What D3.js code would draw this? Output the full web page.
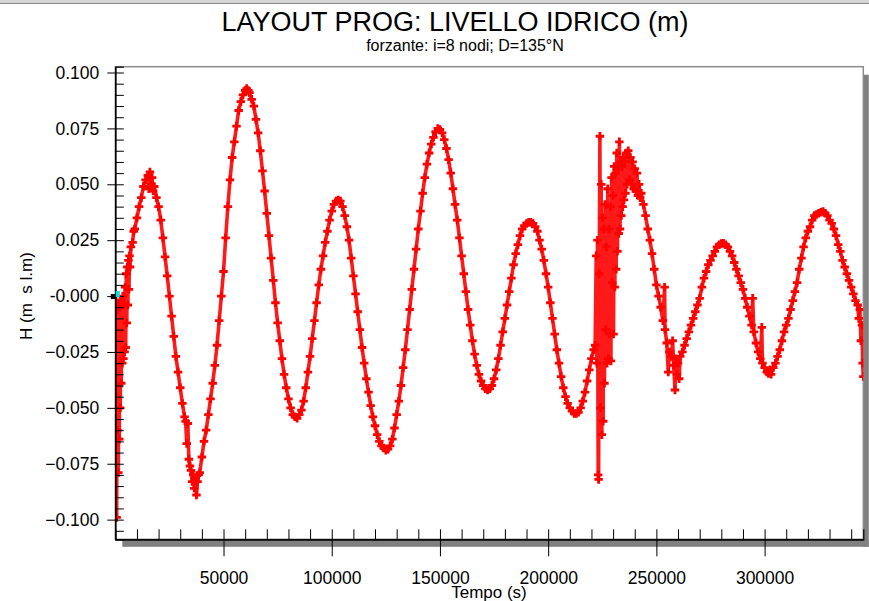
<!DOCTYPE html>
<html>
<head>
<meta charset="utf-8">
<script src="https://cdn.jsdelivr.net/npm/d3@7"></script>
<style>
  body { margin: 0; background: #fff; }
  svg { display: block; font-family: "Liberation Sans", Arial, sans-serif; }
</style>
</head>
<body>
<svg id="chart" width="869" height="601"></svg>
<script>
/// Data: [tempo (s), livello (m)]
var livello = [
  [0,0.0005],[350,-0.004],[630,-0.099],[850,-0.006],[1000,-0.060],[1150,-0.004],[1400,-0.079],[1600,-0.003],
  [1850,-0.064],[2050,-0.005],[2300,-0.050],[2500,-0.002],[2750,-0.039],[2950,-0.004],[3250,-0.030],[3500,0.000],
  [3750,-0.028],[4000,-0.004],[4300,-0.025],[4550,0.004],[4800,-0.023],[5050,0.010],[5300,-0.012],[5550,0.013],
  [5800,-0.004],[6050,0.016],[6300,0.003],[6550,0.018],[6800,0.013],[7200,0.022],
  [8000,0.024],[8500,0.029],[9000,0.030],[10000,0.035],[11000,0.040],[12000,0.044],[13000,0.049],[14000,0.052],
  [15000,0.054],[15500,0.048],[16000,0.0555],[16500,0.050],[17000,0.053],[17500,0.047],[18000,0.049],[19000,0.044],
  [20000,0.040],[21000,0.034],[22000,0.026],[23000,0.0175],[24000,0.009],[25000,0.000],[26000,-0.009],[27000,-0.018],
  [28000,-0.027],[29000,-0.034],[30000,-0.041],[31000,-0.048],[32000,-0.054],[32500,-0.056],[33000,-0.066],[33500,-0.057],
  [34000,-0.073],[34500,-0.076],[35000,-0.078],[35500,-0.083],[36000,-0.080],[36500,-0.086],[37000,-0.082],[37500,-0.089],
  [38000,-0.083],[38500,-0.080],[39000,-0.079],[40000,-0.072],[41000,-0.065],[42000,-0.060],[43000,-0.053],[44000,-0.046],
  [45000,-0.039],[46000,-0.031],[47000,-0.022],[48000,-0.011],[49000,0.000],[50000,0.011],[51000,0.026],[52000,0.040],
  [53000,0.052],[54000,0.062],[55000,0.069],[56000,0.076],[57000,0.083],[58000,0.087],[59000,0.090],[60000,0.092],
  [60700,0.0928],[61500,0.092],[62000,0.091],[63000,0.088],[64000,0.085],[65000,0.079],[66000,0.073],[67000,0.065],
  [68000,0.056],[69000,0.047],[70000,0.037],[71000,0.027],[72000,0.017],[73000,0.007],[74000,-0.003],[75000,-0.012],
  [76000,-0.020],[77000,-0.028],[78000,-0.035],[79000,-0.041],[80000,-0.046],[81000,-0.050],[82000,-0.053],[83000,-0.054],
  [84000,-0.0547],[85000,-0.053],[86000,-0.051],[87000,-0.047],[88000,-0.041],[89000,-0.034],[90000,-0.027],[91000,-0.019],
  [92000,-0.011],[93000,-0.003],[94000,0.005],[95000,0.012],[96000,0.018],[97000,0.024],[98000,0.029],[99000,0.034],
  [100000,0.038],[101000,0.041],[102000,0.0425],[103000,0.043],[104000,0.0425],[105000,0.040],[106000,0.036],[107000,0.031],
  [108000,0.025],[109000,0.017],[110000,0.009],[111000,0.001],[112000,-0.007],[113000,-0.015],[114000,-0.023],[115000,-0.030],
  [116000,-0.037],[117000,-0.043],[118000,-0.049],[119000,-0.054],[120000,-0.058],[121000,-0.062],[122000,-0.065],[123000,-0.067],
  [124000,-0.068],[125000,-0.069],[126000,-0.0685],[127000,-0.067],[128000,-0.064],[129000,-0.059],[130000,-0.053],[131000,-0.047],
  [132000,-0.040],[133000,-0.032],[134000,-0.024],[135000,-0.015],[136000,-0.006],[137000,0.003],[138000,0.012],[139000,0.021],
  [140000,0.030],[141000,0.038],[142000,0.046],[143000,0.053],[144000,0.059],[145000,0.064],[146000,0.068],[147000,0.071],
  [148000,0.0735],[149000,0.075],[150000,0.0745],[151000,0.073],[152000,0.070],[153000,0.066],[154000,0.061],[155000,0.055],
  [156000,0.048],[157000,0.041],[158000,0.034],[159000,0.026],[160000,0.018],[161000,0.010],[162000,0.002],[163000,-0.006],
  [164000,-0.013],[165000,-0.020],[166000,-0.026],[167000,-0.031],[168000,-0.035],[169000,-0.038],[170000,-0.040],[171000,-0.0415],
  [172000,-0.042],[173000,-0.0415],[174000,-0.040],[175000,-0.037],[176000,-0.033],[177000,-0.028],[178000,-0.022],[179000,-0.016],
  [180000,-0.010],[181000,-0.004],[182000,0.002],[183000,0.008],[184000,0.014],[185000,0.019],[186000,0.023],[187000,0.027],
  [188000,0.030],[189000,0.0315],[190000,0.0325],[191000,0.033],[192000,0.033],[193000,0.0325],[194000,0.031],[195000,0.029],
  [196000,0.025],[197000,0.021],[198000,0.016],[199000,0.010],[200000,0.004],[201000,-0.003],[202000,-0.010],[203000,-0.017],
  [204000,-0.024],[205000,-0.030],[206000,-0.036],[207000,-0.041],[208000,-0.045],[209000,-0.048],[210000,-0.050],[211000,-0.0515],
  [212000,-0.0525],[213000,-0.0525],[214000,-0.052],[215000,-0.050],[216000,-0.047],[217000,-0.043],[218000,-0.038],[219000,-0.033],
  [220000,-0.028],[221000,-0.024],[221700,-0.022],
  [222200,0.018],[222500,-0.030],[222800,0.025],[223100,-0.080],[223300,-0.082],[223600,0.010],[223900,0.0715],[224200,-0.050],
  [224500,0.050],[224800,-0.062],[225100,0.035],[225400,-0.056],[225700,0.030],[226000,-0.039],[226300,0.041],[226600,-0.015],
  [226900,0.022],[227200,-0.030],[227500,0.048],[227800,-0.028],[228100,0.030],[228400,-0.017],[228700,0.040],[229000,-0.029],
  [229300,0.053],[229600,0.006],[229900,0.045],[230200,-0.017],[230500,0.058],[230800,0.004],[231100,0.055],[231400,0.012],
  [231700,0.064],[232000,0.020],[232300,0.058],[232600,0.028],[232900,0.069],[233200,0.030],[233500,0.060],[233800,0.036],
  [234100,0.058],[234400,0.040],[234700,0.062],[235000,0.043],[235300,0.060],[235700,0.046],[236100,0.064],[236500,0.050],
  [237000,0.065],[237500,0.052],[238000,0.062],[238500,0.050],[239000,0.060],[239500,0.048],[240000,0.057],[240500,0.047],
  [241000,0.055],[241500,0.045],[242000,0.050],[242500,0.044],[243000,0.046],
  [244000,0.041],[245000,0.036],[246000,0.030],[247000,0.025],[248000,0.019],[249000,0.012],[250000,0.005],[251000,0.000],
  [252000,-0.005],[253000,-0.011],[253800,0.004],[254000,-0.015],[254800,-0.021],[255500,-0.034],[256000,-0.025],[257000,-0.027],
  [257500,-0.020],[258000,-0.031],[258600,-0.042],[259000,-0.028],[259500,-0.035],[260000,-0.030],[260500,-0.037],[261000,-0.027],
  [262000,-0.025],[263000,-0.022],[264000,-0.019],[265000,-0.016],[266000,-0.013],[267000,-0.010],[268000,-0.007],[269000,-0.004],
  [270000,-0.001],[271000,0.004],[272000,0.008],[273000,0.011],[274000,0.014],[275000,0.016],[276000,0.018],[277000,0.020],
  [278000,0.022],[279000,0.023],[280000,0.0235],[281000,0.0236],[282000,0.023],[283000,0.022],[284000,0.020],[285000,0.018],
  [286000,0.015],[287000,0.012],[288000,0.009],[289000,0.006],[290000,0.003],[291000,-0.001],[292000,-0.005],[293000,-0.009],
  [294000,-0.013],[294500,-0.001],[295000,-0.016],[296000,-0.021],[297000,-0.025],[298000,-0.028],[298700,-0.014],[299000,-0.030],
  [300000,-0.032],[301000,-0.034],[301800,-0.0346],[302500,-0.033],[303000,-0.035],[304000,-0.032],[305000,-0.030],[306000,-0.027],
  [307000,-0.024],[308000,-0.020],[309000,-0.016],[310000,-0.013],[311000,-0.010],[312000,-0.006],[313000,-0.002],[314000,0.002],
  [315000,0.006],[316000,0.012],[317000,0.017],[318000,0.022],[319000,0.026],[320000,0.029],[321000,0.031],[322000,0.034],
  [323000,0.036],[324000,0.0365],[325000,0.037],[326000,0.0375],[327000,0.0378],[328000,0.037],[329000,0.036],[330000,0.034],
  [331000,0.0325],[332000,0.030],[333000,0.027],[334000,0.023],[335000,0.020],[336000,0.016],[337000,0.013],[338000,0.010],
  [339000,0.007],[340000,0.004],[341000,0.001],[342000,-0.002],[343000,-0.004],[343500,-0.010],[344000,-0.006],[344500,-0.020],
  [345000,-0.013],[345300,-0.030],[345600,-0.036]
];

var yMajorTicks = [0.1, 0.075, 0.05, 0.025, 0, -0.025, -0.05, -0.075, -0.1];
var xMajorTicks = [50000, 100000, 150000, 200000, 250000, 300000];

var titolo = "LAYOUT PROG: LIVELLO IDRICO (m)";
var sottotitolo = "forzante: i=8 nodi; D=135°N";
var xLabel = "Tempo (s)";
var yLabel = "H (m  s l.m)";


/// Scales
var svg = d3.select("#chart");
// NOTE: plain "top" clashes with window.top, so prefix everything
var pLeft = 115.3, pRight = 863.3, pTop = 66.7, pBottom = 539.3;

var x = d3.scaleLinear().domain([0, 345600]).range([pLeft, pRight]);
var y = d3.scaleLinear().domain([-0.1088, 0.1026]).range([pBottom, pTop]);


/// Window chrome strip at the very top
svg.append("rect").attr("x", 0).attr("y", 0).attr("width", 869).attr("height", 3).style("fill", "#d4d4d4");
svg.append("rect").attr("x", 0).attr("y", 3).attr("width", 869).attr("height", 1).style("fill", "#8a8a8a");

/// Titles
svg.append("text").attr("x", 455).attr("y", 31)
    .attr("text-anchor", "middle").style("font-size", "27px").text(titolo);
svg.append("text").attr("x", 465).attr("y", 51)
    .attr("text-anchor", "middle").style("font-size", "16px").text(sottotitolo);

/// Frame with drop shadow
svg.append("rect").attr("x", pLeft + 7).attr("y", pBottom).attr("width", pRight - pLeft - 2).attr("height", 7.5)
    .style("fill", "#808080");
svg.append("rect").attr("x", pRight).attr("y", pTop + 8).attr("width", 5.5).attr("height", pBottom - pTop - 0.5)
    .style("fill", "#808080");
svg.append("rect").attr("x", pLeft).attr("y", pTop).attr("width", pRight - pLeft).attr("height", pBottom - pTop)
    .style("fill", "#fff").style("stroke", "#8c8c8c").style("stroke-width", 1.5);


/// Line and markers
svg.append("clipPath").attr("id", "plotclip")
  .append("rect").attr("x", pLeft).attr("y", pTop).attr("width", pRight - pLeft).attr("height", pBottom - pTop);

var plot = svg.append("g").attr("clip-path", "url(#plotclip)");

var line = d3.line()
    .x(function(d) { return x(d[0]); })
    .y(function(d) { return y(d[1]); });

plot.append("path")
    .datum(livello)
    .attr("d", line)
    .style("fill", "none")
    .style("stroke", "#ff0000")
    .style("stroke-opacity", 0.9)
    .style("stroke-width", 3.6)
    .style("stroke-linejoin", "round");

var marker = d3.symbol().type(d3.symbolCross).size(40);
plot.selectAll("path.pt")
    .data(livello)
  .enter().append("path")
    .attr("class", "pt")
    .attr("d", marker)
    .attr("transform", function(d) { return "translate(" + x(d[0]) + "," + y(d[1]) + ")"; })
    .style("fill", "#ff0000");


/// Axes
var fmt = d3.format(".3f");
var yMinorTicks = d3.range(-21, 21).map(function(i) { return i * 0.005; });
var xMinorTicks = d3.range(1, 35).map(function(i) { return i * 10000; });

// minor ticks (inside)
svg.append("g").attr("transform", "translate(" + pLeft + ",0)")
    .call(d3.axisLeft(y).tickValues(yMinorTicks).tickSize(-8.5).tickFormat(""));
svg.append("g").attr("transform", "translate(0," + pBottom + ")")
    .call(d3.axisBottom(x).tickValues(xMinorTicks).tickSize(-10).tickFormat(""));

// major ticks (outside) with labels
svg.append("g").attr("class", "ymaj").attr("transform", "translate(" + pLeft + ",0)")
    .call(d3.axisLeft(y).tickValues(yMajorTicks).tickSizeInner(8).tickSizeOuter(0).tickPadding(8)
      .tickFormat(function(d) { return d === 0 ? "-0.000" : fmt(d); }));
svg.append("g").attr("class", "xmaj").attr("transform", "translate(0," + pBottom + ")")
    .call(d3.axisBottom(x).tickValues(xMajorTicks).tickSizeInner(17).tickSizeOuter(0).tickPadding(15)
      .tickFormat(d3.format("d")));

svg.selectAll(".domain").style("stroke", "#000").style("stroke-width", 1.2);
svg.selectAll(".tick line").style("stroke", "#000");
svg.selectAll(".tick text").style("font-size", "17.5px").style("font-family", "'Liberation Sans', Arial, sans-serif").style("fill", "#000");

/// Axis titles
svg.append("text").attr("x", 489).attr("y", 598)
    .attr("text-anchor", "middle").style("font-size", "17px").text(xLabel);
svg.append("text").attr("transform", "translate(32," + y(0) + ") rotate(-90)")
    .attr("text-anchor", "middle").style("font-size", "17px").style("white-space", "pre").text(yLabel);

/// Selected first point (cyan) and its axis marker
svg.append("rect").attr("x", pLeft - 4.5).attr("y", y(0) - 2).attr("width", 4.5).attr("height", 5).style("fill", "#000");
svg.append("rect").attr("x", x(livello[0][0]) + 0.5).attr("y", y(livello[0][1]) - 4).attr("width", 4).attr("height", 6)
    .style("fill", "#00e5e5");
</script>
</body>
</html>
